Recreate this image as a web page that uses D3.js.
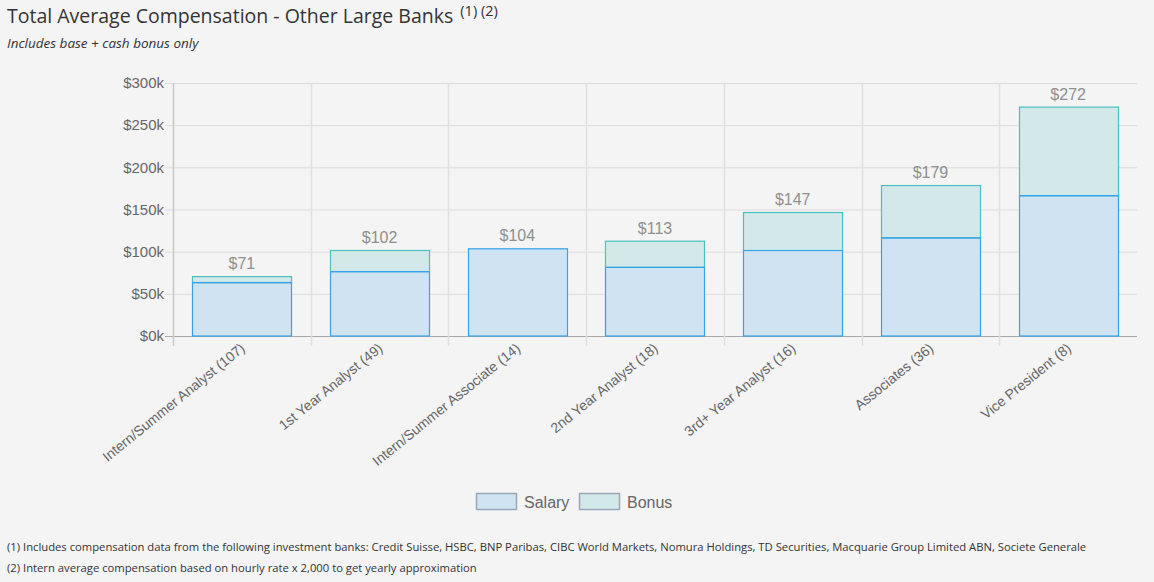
<!DOCTYPE html>
<html>
<head>
<meta charset="utf-8">
<script src="https://cdn.jsdelivr.net/npm/d3@7"></script>
<style>
  html, body { margin: 0; padding: 0; background: #f4f4f4; }
  svg { display: block; }
</style>
</head>
<body>
<svg id="chart" width="1154" height="582"></svg>
<script>
const categories = [
  "Intern/Summer Analyst (107)",
  "1st Year Analyst (49)",
  "Intern/Summer Associate (14)",
  "2nd Year Analyst (18)",
  "3rd+ Year Analyst (16)",
  "Associates (36)",
  "Vice President (8)"
];
const salary = [64, 77, 104, 82, 102, 117, 167];
const bonus  = [7, 25, 0, 31, 45, 62, 105];
const totals = [71, 102, 104, 113, 147, 179, 272];
const yTicks = [0, 50, 100, 150, 200, 250, 300];
const seriesNames = ["Salary", "Bonus"];
const footnotes = [
  "(1) Includes compensation data from the following investment banks: Credit Suisse, HSBC, BNP Paribas, CIBC World Markets, Nomura Holdings, TD Securities, Macquarie Group Limited ABN, Societe Generale",
  "(2) Intern average compensation based on hourly rate x 2,000 to get yearly approximation"
];

(function () {
const svg = d3.select("#chart");
const W = 1154, H = 582;
svg.append("rect").attr("width", W).attr("height", H).attr("fill", "#f4f4f4");

const uiFont = "'Open Sans', 'Noto Sans', sans-serif";
const chartFont = "'Liberation Sans', Arial, Helvetica, sans-serif";

// Title
const title = svg.append("text").attr("x", 7).attr("y", 23)
  .attr("font-family", uiFont).attr("font-size", 19.5).attr("fill", "#333");
title.append("tspan").text("Total Average Compensation - Other Large Banks ");
title.append("tspan").attr("font-size", 14.5).attr("dy", -7).attr("dx", 2).text("(1) (2)");

svg.append("text").attr("x", 7).attr("y", 48)
  .attr("font-family", uiFont).attr("font-size", 13.5).attr("font-style", "italic")
  .attr("fill", "#333").text("Includes base + cash bonus only");

// Plot area
const pLeft = 173, pRight = 1137, pTop = 83, pBottom = 336;
const x = d3.scaleBand().domain(categories).range([pLeft, pRight]).paddingInner(0).paddingOuter(0);
const y = d3.scaleLinear().domain([0, 300]).range([pBottom, pTop]);

const colors = {
  salaryFill: "#cfe3f2", salaryStroke: "#36a2eb",
  bonusFill: "#d3e9e9", bonusStroke: "#4bc0c0"
};

// Horizontal grid
const g = svg.append("g");
g.selectAll("line.hgrid").data(yTicks).join("line")
  .attr("x1", pLeft - 8).attr("x2", pRight)
  .attr("y1", d => y(d) + 0.5).attr("y2", d => y(d) + 0.5)
  .attr("stroke", d => d === 0 ? "#a8a8a8" : "#dcdcdc").attr("stroke-width", 1);

// Vertical grid (category boundaries)
const vb = categories.map(c => x(c));
g.selectAll("line.vgrid").data(vb).join("line")
  .attr("x1", d => Math.round(d) + 0.5).attr("x2", d => Math.round(d) + 0.5)
  .attr("y1", pTop).attr("y2", pBottom + 10)
  .attr("stroke", (d, i) => i === 0 ? "#c8c8c8" : "#e0e0e0").attr("stroke-width", 1.5);

// Y tick labels
g.selectAll("text.ytick").data(yTicks).join("text")
  .attr("x", pLeft - 9).attr("y", d => y(d)).attr("dy", "0.35em")
  .attr("text-anchor", "end").attr("font-family", chartFont).attr("font-size", 15)
  .attr("fill", "#666").text(d => "$" + d + "k");

// Bars
const bw = x.bandwidth() * 0.72;
const bx = c => x(c) + (x.bandwidth() - bw) / 2;

const bars = svg.append("g");
bars.selectAll("rect.sal").data(categories).join("rect")
  .attr("x", c => Math.round(bx(c)) + 0.5)
  .attr("y", (c, i) => y(salary[i]) + 0.5)
  .attr("width", Math.round(bw))
  .attr("height", (c, i) => y(0) - y(salary[i]) - 0.5)
  .attr("fill", colors.salaryFill).attr("stroke", colors.salaryStroke).attr("stroke-width", 1.2);

const withBonus = categories.filter((c, i) => bonus[i] > 0);
bars.selectAll("rect.bon").data(withBonus).join("rect")
  .attr("x", c => Math.round(bx(c)) + 0.5)
  .attr("y", c => { const i = categories.indexOf(c); return y(salary[i] + bonus[i]) + 0.5; })
  .attr("width", Math.round(bw))
  .attr("height", c => { const i = categories.indexOf(c); return y(salary[i]) - y(salary[i] + bonus[i]); })
  .attr("fill", colors.bonusFill).attr("stroke", colors.bonusStroke).attr("stroke-width", 1.2);

bars.selectAll("line.saltop").data(withBonus).join("line")
  .attr("x1", c => Math.round(bx(c)) + 0.5).attr("x2", c => Math.round(bx(c)) + 0.5 + Math.round(bw))
  .attr("y1", c => y(salary[categories.indexOf(c)]) + 0.5)
  .attr("y2", c => y(salary[categories.indexOf(c)]) + 0.5)
  .attr("stroke", colors.salaryStroke).attr("stroke-width", 1.2);

// Data labels
svg.append("g").selectAll("text").data(categories).join("text")
  .attr("x", c => x(c) + x.bandwidth() / 2)
  .attr("y", (c, i) => y(totals[i]) - 7)
  .attr("text-anchor", "middle").attr("font-family", chartFont).attr("font-size", 16)
  .attr("fill", "#8f8f8f").text((c, i) => "$" + totals[i]);

// X labels rotated
svg.append("g").selectAll("text").data(categories).join("text")
  .attr("transform", c => `translate(${x(c) + x.bandwidth() / 2 + 4},${pBottom + 14}) rotate(-39)`)
  .attr("text-anchor", "end").attr("font-family", chartFont).attr("font-size", 14)
  .attr("fill", "#666").text(c => c);

// Legend
const legend = svg.append("g");
const legendItems = [
  { name: seriesNames[0], fill: colors.salaryFill, x: 476 },
  { name: seriesNames[1], fill: colors.bonusFill, x: 579 }
];
legend.selectAll("rect").data(legendItems).join("rect")
  .attr("x", d => d.x + 0.5).attr("y", 493.5).attr("width", 40).attr("height", 16)
  .attr("fill", d => d.fill).attr("stroke", "#98a8b6").attr("stroke-width", 1.5);
legend.selectAll("text").data(legendItems).join("text")
  .attr("x", d => d.x + 48).attr("y", 502).attr("dy", "0.35em")
  .attr("font-family", chartFont).attr("font-size", 16).attr("fill", "#666").text(d => d.name);

// Footnotes
svg.append("g").selectAll("text").data(footnotes).join("text")
  .attr("x", 7).attr("y", (d, i) => 551 + i * 21)
  .attr("font-family", uiFont).attr("font-size", 11.25).attr("fill", "#333").text(d => d);
})();
</script>
</body>
</html>
